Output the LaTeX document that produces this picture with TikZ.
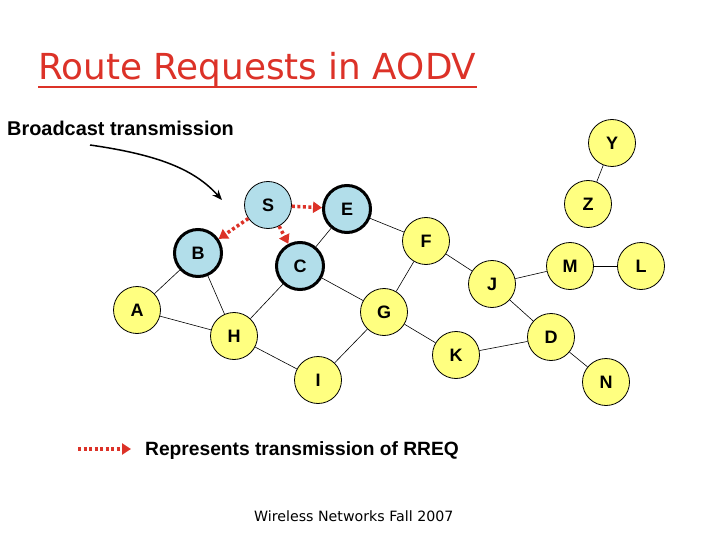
\documentclass[tikz,border=0pt]{standalone}
\usepackage{fontspec}
\setmainfont{Liberation Sans}
\newfontfamily\verd{DejaVu Sans}
\usetikzlibrary{arrows.meta}
\definecolor{nyel}{RGB}{255,255,128}
\definecolor{nblue}{RGB}{178,222,234}
\definecolor{tred}{RGB}{220,50,40}
\begin{document}
\begin{tikzpicture}[x=1pt,y=-1pt,
  nd/.style={circle,draw=black,line width=0.8pt,fill=nyel,minimum size=47pt,inner sep=0pt,font=\bfseries\fontsize{18}{18}\selectfont},
  bl/.style={nd,fill=nblue},
  thk/.style={line width=3pt},
  edge/.style={draw=black,line width=0.6pt},
  rreq/.style={draw=tred,line width=3.5pt,dash pattern=on 3pt off 2.5pt,-{Triangle[length=9pt,width=11pt]}}]
\useasboundingbox (0,0) rectangle (720,540);
\node[anchor=base west,text=tred,font=\verd\fontsize{35.8}{36}\selectfont,inner sep=0pt] (title) at (38,80) {Route Requests in AODV};
\draw[tred,line width=2pt] (title.south west|-0,87) -- (title.south east|-0,87);
\node[anchor=base west,font=\bfseries\fontsize{19.9}{20}\selectfont,inner sep=0pt] (bt) at (7,136) {Broadcast transmission};
\node[bl] (S) at (268,205) {S};
\node[bl,thk] (E) at (347,209) {E};
\node[bl,thk] (B) at (198,253) {B};
\node[bl,thk] (C) at (300,266) {C};
\node[nd] (Y) at (612,143) {Y};
\node[nd] (Z) at (588,204) {Z};
\node[nd] (F) at (426,241) {F};
\node[nd] (J) at (492,284) {J};
\node[nd] (M) at (570,266) {M};
\node[nd] (L) at (641,266) {L};
\node[nd] (A) at (137,310) {A};
\node[nd] (G) at (384,312) {G};
\node[nd] (H) at (234,336) {H};
\node[nd] (K) at (456,355) {K};
\node[nd] (D) at (551,337) {D};
\node[nd] (I) at (318,380) {I};
\node[nd] (N) at (606,382) {N};
\foreach \a/\b in {B/A,B/H,A/H,C/H,C/G,E/C,E/F,F/G,F/J,J/M,M/L,J/D,G/K,K/D,D/N,H/I,I/G,Y/Z}
  \draw[edge] (\a) -- (\b);
\draw[rreq] (S) -- (E);
\draw[rreq] (S) -- (B);
\draw[rreq] (S) -- (C);
\coordinate (bs) at (90,145);
\coordinate (be) at (222,200);
\draw[line width=1.5pt,-{Stealth[length=10pt,width=8pt]}] (bs) .. controls (160,155) and (195,170) .. (be);
\coordinate (ls) at (78,449);
\coordinate (le) at (131,449);
\draw[rreq] (ls) -- (le);
\node[anchor=base west,font=\bfseries\fontsize{19.2}{20}\selectfont,inner sep=0pt] (leg) at (145,455) {Represents transmission of RREQ};
\node[anchor=base west,font=\verd\fontsize{14.2}{14}\selectfont,inner sep=0pt] (foot) at (254,521) {Wireless Networks Fall 2007};
\end{tikzpicture}
\end{document}
